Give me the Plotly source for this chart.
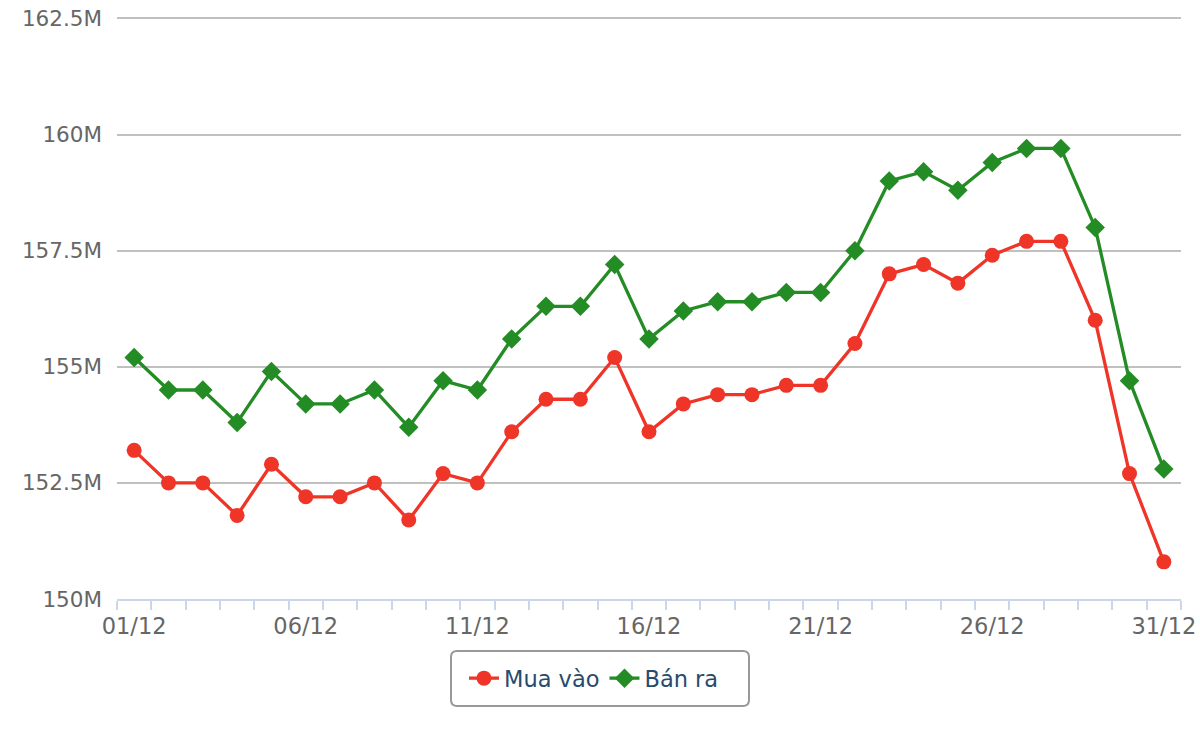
import plotly.graph_objects as go

dates = [f"{d:02d}/12" for d in range(1, 32)]
mua_vao = [153.2, 152.5, 152.5, 151.8, 152.9, 152.2, 152.2, 152.5, 151.7, 152.7,
           152.5, 153.6, 154.3, 154.3, 155.2, 153.6, 154.2, 154.4, 154.4, 154.6,
           154.6, 155.5, 157.0, 157.2, 156.8, 157.4, 157.7, 157.7, 156.0, 152.7, 150.8]
ban_ra = [155.2, 154.5, 154.5, 153.8, 154.9, 154.2, 154.2, 154.5, 153.7, 154.7,
          154.5, 155.6, 156.3, 156.3, 157.2, 155.6, 156.2, 156.4, 156.4, 156.6,
          156.6, 157.5, 159.0, 159.2, 158.8, 159.4, 159.7, 159.7, 158.0, 154.7, 152.8]
y_ticks = [150, 152.5, 155, 157.5, 160, 162.5]
y_labels = ["150M", "152.5M", "155M", "157.5M", "160M", "162.5M"]

idx = list(range(len(dates)))
font = "DejaVu Sans"

fig = go.Figure()
fig.add_trace(go.Scatter(
    x=idx, y=mua_vao, name="Mua vào", mode="lines+markers",
    line=dict(color="#ee3528", width=3.3),
    marker=dict(symbol="circle", size=15, color="#ee3528"),
))
fig.add_trace(go.Scatter(
    x=idx, y=ban_ra, name="Bán ra", mode="lines+markers",
    line=dict(color="#248c25", width=3.3),
    marker=dict(symbol="diamond", size=15, color="#248c25"),
))

L, R, T, B = 117, 19, 17, 141
pw = 1200 - L - R
ph = 740 - T - B

def px_x(p):
    return (p - L) / pw

def px_y(p):
    return (740 - B - p) / ph

# rounded legend box
x0, x1 = px_x(451), px_x(749)
y0, y1 = px_y(706), px_y(651)
rx, ry = 6 / pw, 6 / ph
path = (f"M {x0+rx},{y1} L {x1-rx},{y1} Q {x1},{y1} {x1},{y1-ry} "
        f"L {x1},{y0+ry} Q {x1},{y0} {x1-rx},{y0} L {x0+rx},{y0} "
        f"Q {x0},{y0} {x0},{y0+ry} L {x0},{y1-ry} Q {x0},{y1} {x0+rx},{y1} Z")

fig.update_layout(
    width=1200, height=740,
    margin=dict(l=L, r=R, t=T, b=B, autoexpand=False),
    paper_bgcolor="white", plot_bgcolor="white",
    font=dict(family=font, size=20, color="#666666"),
    showlegend=True,
    legend=dict(
        orientation="h", x=px_x(464), xanchor="left", y=px_y(678.5), yanchor="middle",
        font=dict(family=font, size=22.5, color="#274b6d"),
        bgcolor="rgba(0,0,0,0)", borderwidth=0, itemwidth=30,
    ),
    shapes=[dict(type="path", path=path, xref="paper", yref="paper",
                 line=dict(color="#999999", width=2), fillcolor="rgba(0,0,0,0)",
                 layer="below")],
    xaxis=dict(
        range=[-0.5, len(dates) - 0.5], automargin=False,
        tickmode="array", tickvals=idx[::5], ticktext=dates[::5],
        ticks="", showgrid=False, zeroline=False,
        showline=True, linecolor="#ccd6eb", linewidth=2,
        tickfont=dict(family=font, size=22.5, color="#666666"),
        ticklabelstandoff=6,
        minor=dict(tick0=-0.5, dtick=1, ticks="outside", ticklen=9,
                   tickcolor="#ccd6eb", tickwidth=2, showgrid=False),
    ),
    yaxis=dict(
        range=[150, 162.53], automargin=False,
        tickmode="array", tickvals=y_ticks, ticktext=y_labels,
        ticks="", showgrid=True, gridcolor="#c0c0c0", gridwidth=1.5,
        zeroline=False, showline=False,
        tickfont=dict(family=font, size=21.5, color="#666666"),
        ticklabelstandoff=14,
    ),
)

fig.write_html("out.html")
